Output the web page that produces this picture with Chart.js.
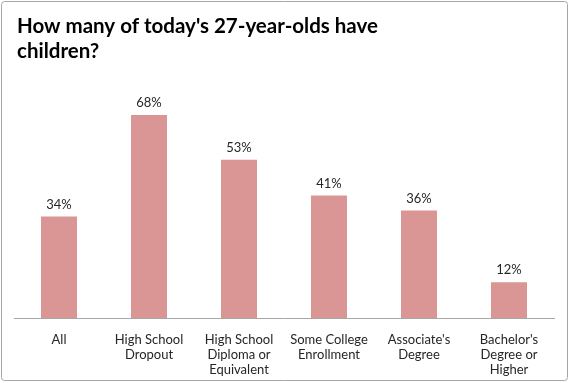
<!DOCTYPE html>
<html>
<head>
<meta charset="utf-8">
<script src="https://cdn.jsdelivr.net/npm/chart.js@4.4.1/dist/chart.umd.min.js"></script>
<style>
  html, body { margin: 0; padding: 0; background: #ffffff; }
  #wrap { width: 570px; height: 383px; position: relative; }
</style>
</head>
<body>
<div id="wrap"><canvas id="c" width="570" height="383"></canvas></div>
<script>
const categories = [
  ["All"],
  ["High School", "Dropout"],
  ["High School", "Diploma or", "Equivalent"],
  ["Some College", "Enrollment"],
  ["Associate's", "Degree"],
  ["Bachelor's", "Degree or", "Higher"]
];
const values = [34, 68, 53, 41, 36, 12];
const valueLabels = ["34%", "68%", "53%", "41%", "36%", "12%"];
const titleLines = ["How many of today's 27-year-olds have", "children?"];

const FONT = "Lato, 'Open Sans', 'DejaVu Sans', sans-serif";

const frameAndTitle = {
  id: 'frameAndTitle',
  afterDraw(chart) {
    const ctx = chart.ctx;
    ctx.save();
    ctx.strokeStyle = '#a6a6a6';
    ctx.lineWidth = 1;
    ctx.beginPath();
    if (ctx.roundRect) ctx.roundRect(1.5, 1.5, 566, 379, 3); else ctx.rect(1.5, 1.5, 566, 379);
    ctx.stroke();
    ctx.fillStyle = '#000000';
    ctx.font = "bold 20.5px " + FONT;
    ctx.textBaseline = 'alphabetic';
    ctx.textAlign = 'left';
    ctx.fillText(titleLines[0], 17, 33);
    ctx.fillText(titleLines[1], 17, 58);
    ctx.restore();
  }
};

const barLabels = {
  id: 'barLabels',
  afterDatasetsDraw(chart) {
    const ctx = chart.ctx;
    const meta = chart.getDatasetMeta(0);
    ctx.save();
    ctx.fillStyle = '#262626';
    ctx.font = "13px " + FONT;
    ctx.textAlign = 'center';
    ctx.textBaseline = 'alphabetic';
    meta.data.forEach((bar, i) => {
      ctx.fillText(valueLabels[i], bar.x, bar.y - 8);
    });
    ctx.restore();
  }
};

new Chart(document.getElementById('c'), {
  type: 'bar',
  data: {
    labels: categories,
    datasets: [{
      data: values,
      backgroundColor: '#d99694',
      borderWidth: 0,
      categoryPercentage: 1.0,
      barPercentage: 0.4
    }]
  },
  options: {
    responsive: false,
    animation: false,
    layout: { padding: { left: 14, right: 16, top: 19.5, bottom: 0 } },
    plugins: {
      legend: { display: false },
      title: { display: false },
      tooltip: { enabled: false }
    },
    scales: {
      x: {
        afterFit(scale) { scale.height = 65; },
        grid: { display: false, drawTicks: false },
        border: { display: true, color: '#a6a6a6', width: 1 },
        ticks: {
          color: '#262626',
          font: { family: FONT, size: 13, lineHeight: 1.15 },
          padding: 14,
          maxRotation: 0,
          autoSkip: false
        }
      },
      y: {
        display: false,
        min: 0,
        max: 100
      }
    }
  },
  plugins: [frameAndTitle, barLabels]
});
</script>
</body>
</html>
